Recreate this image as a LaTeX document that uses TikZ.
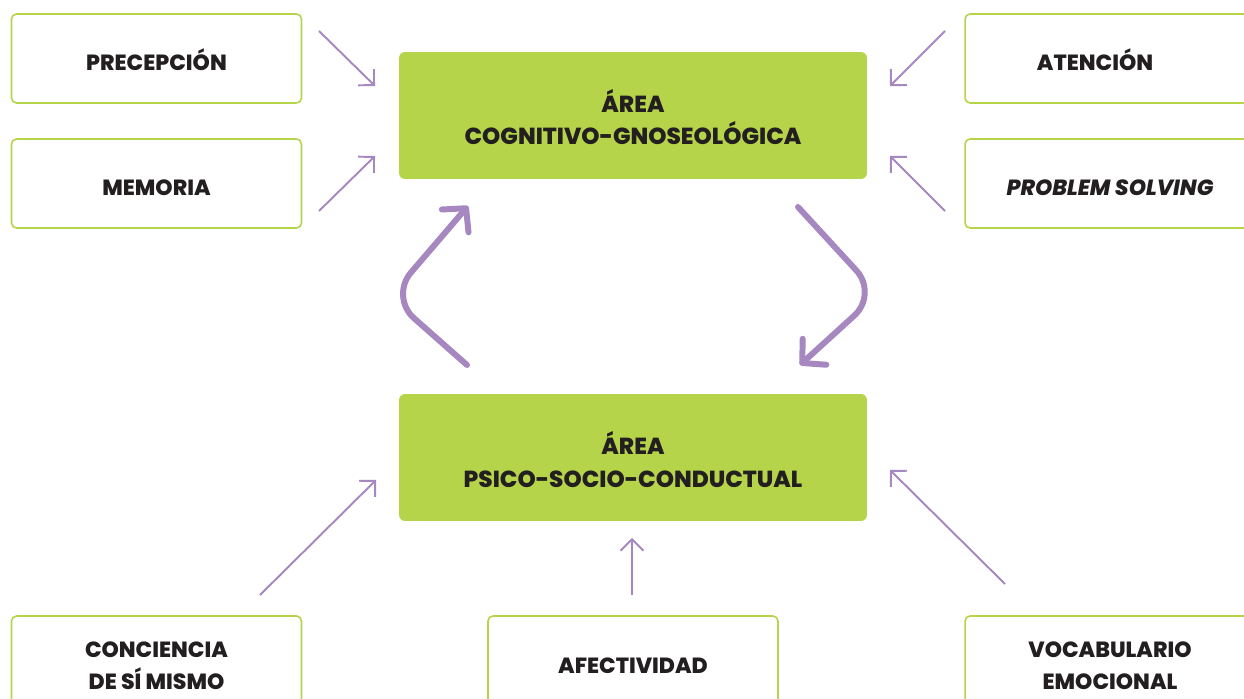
\documentclass[tikz,border=0pt]{standalone}
\usepackage{fontspec}
\setmainfont{Poppins}[BoldFont={* ExtraBold}, BoldItalicFont={* ExtraBold Italic}]
\usetikzlibrary{arrows.meta}
\definecolor{lgreen}{HTML}{B5D44A}
\definecolor{lpurple}{HTML}{A687BF}
\definecolor{ink}{HTML}{231F20}
\tikzset{
  outbox/.style={draw=lgreen, line width=0.9pt, rounded corners=1mm, fill=white, minimum width=5.8cm, minimum height=1.78cm, inner sep=0pt},
  greenbox/.style={fill=lgreen, rounded corners=1.2mm, minimum width=9.36cm, minimum height=2.54cm, inner sep=0pt},
  lbl/.style={text=ink, font=\fontsize{12.5}{18.2}\selectfont\bfseries, align=center, anchor=base, inner sep=0pt},
  glbl/.style={lbl, font=\fontsize{13.2}{18.7}\selectfont\bfseries},
  thin/.style={draw=lpurple, line width=1.1pt, -{Straight Barb[length=6.4pt,width=13pt]}},
  thick/.style={draw=lpurple, line width=3.4pt, line cap=round, line join=round, rounded corners=6.4mm, -{Straight Barb[length=9.5pt,width=20pt,line cap=round,line join=round]}}
}
\begin{document}
\begin{tikzpicture}[x=0.02cm, y=-0.02cm]
\useasboundingbox (0,0) rectangle (1244,699);
% boxes
\node[outbox] (pre) at (156.5,58.5) {};
\node[outbox] (mem) at (156.5,183.5) {};
\node[outbox] (ate) at (1110,58.5) {};
\node[outbox] (pro) at (1110,183.5) {};
\node[outbox] (con) at (156.5,660.5) {};
\node[outbox] (afe) at (633,660.5) {};
\node[outbox] (voc) at (1110,660.5) {};
\node[greenbox] (cog) at (633,115.5) {};
\node[greenbox] (psi) at (633,457.5) {};
% labels (base = baseline of last line)
\node[lbl] (tpre) at (156.5,71) {PRECEPCIÓN};
\node[lbl] (tmem) at (156.5,196) {MEMORIA};
\node[lbl] (tate) at (1095,71) {ATENCIÓN};
\node[lbl] (tpro) at (1110,196) {\itshape PROBLEM SOLVING};
\node[glbl] (tcog) at (633,145) {ÁREA\\COGNITIVO-GNOSEOLÓGICA};
\node[glbl] (tpsi) at (633,487) {ÁREA\\PSICO-SOCIO-CONDUCTUAL};
\node[lbl] (tcon) at (156.5,689) {CONCIENCIA\\DE SÍ MISMO};
\node[lbl] (tafe) at (633,673) {AFECTIVIDAD};
\node[lbl] (tvoc) at (1110,689) {VOCABULARIO\\EMOCIONAL};
% thin arrow ends
\coordinate (a1s) at (319,31);  \coordinate (a1e) at (375,86);
\coordinate (a2s) at (319,211); \coordinate (a2e) at (375,156);
\coordinate (a3s) at (945,31);  \coordinate (a3e) at (890,86);
\coordinate (a4s) at (945,211); \coordinate (a4e) at (890,156);
\coordinate (a5s) at (260,595); \coordinate (a5e) at (376,480);
\coordinate (a6s) at (632,595); \coordinate (a6e) at (632,538);
\coordinate (a7s) at (1005,584); \coordinate (a7e) at (890,470);
\draw[thin] (a1s) -- (a1e);
\draw[thin] (a2s) -- (a2e);
\draw[thin] (a3s) -- (a3e);
\draw[thin] (a4s) -- (a4e);
\draw[thin] (a5s) -- (a5e);
\draw[thin] (a6s) -- (a6e);
\draw[thin] (a7s) -- (a7e);
% thick cycle arrows
\coordinate (l1) at (467,365); \coordinate (lc) at (390,297); \coordinate (l2) at (468,206);
\coordinate (r1) at (798,207); \coordinate (rc) at (878,294); \coordinate (r2) at (800,365);
\draw[thick] (l1) -- (lc) -- (l2);
\draw[thick] (r1) -- (rc) -- (r2);
\end{tikzpicture}
\end{document}
